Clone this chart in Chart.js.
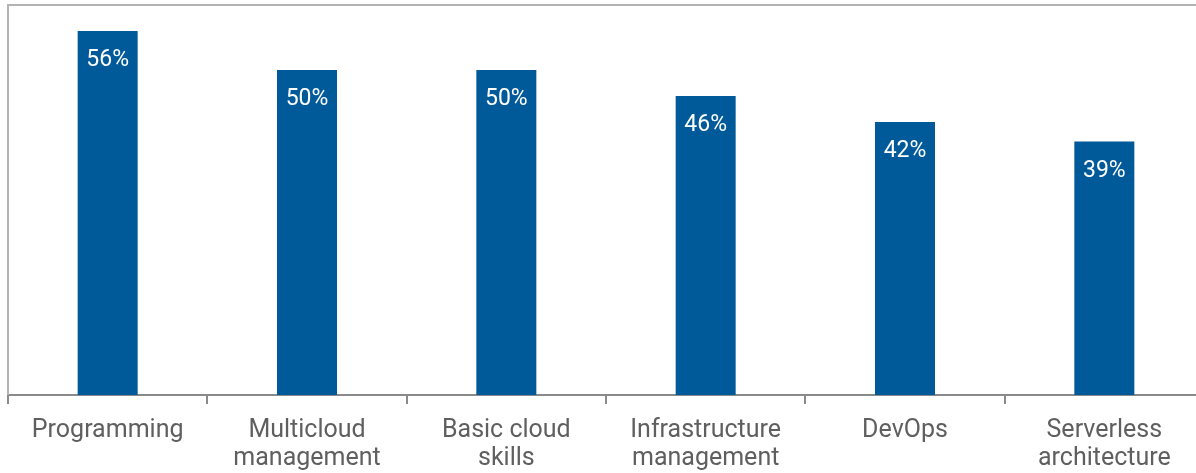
<!DOCTYPE html>
<html>
<head>
<meta charset="utf-8">
<script src="https://cdn.jsdelivr.net/npm/chart.js@4/dist/chart.umd.min.js"></script>
<style>
  html, body { margin: 0; padding: 0; background: #fff; }
  #frame { width: 1196px; height: 473px; overflow: hidden; position: relative; }
  #wrap { width: 1212px; height: 473px; position: absolute; left: 0; top: 0; }
</style>
</head>
<body>
<div id="frame"><div id="wrap"><canvas id="chart"></canvas></div></div>
<script>
// Skills categories and share of respondents (%)
const categories = [
  ["Programming"],
  ["Multicloud", "management"],
  ["Basic cloud", "skills"],
  ["Infrastructure", "management"],
  ["DevOps"],
  ["Serverless", "architecture"]
];
const shares = [56, 50, 50, 46, 42, 39];
const valueLabels = ["56%", "50%", "50%", "46%", "42%", "39%"];

const BAR_BLUE = "#005a9a";
const FRAME_GRAY = "#b4b4b4";
const AXIS_GRAY = "#8a8a8a";
const TEXT_GRAY = "#5f5f5f";

// Light frame on the top and left of the plot area
const framePlugin = {
  id: "frame",
  afterDraw(chart) {
    const { ctx, chartArea } = chart;
    ctx.save();
    ctx.strokeStyle = FRAME_GRAY;
    ctx.lineWidth = 2;
    ctx.beginPath();
    ctx.moveTo(chartArea.left, chartArea.bottom);
    ctx.lineTo(chartArea.left, chartArea.top);
    ctx.lineTo(chart.width, chartArea.top);
    ctx.stroke();
    ctx.restore();
  }
};

// White value labels just inside the top of each bar
const valueLabelPlugin = {
  id: "valueLabels",
  afterDatasetsDraw(chart) {
    const { ctx } = chart;
    const meta = chart.getDatasetMeta(0);
    ctx.save();
    ctx.fillStyle = "#ffffff";
    ctx.font = "23px Roboto";
    ctx.textAlign = "center";
    ctx.textBaseline = "alphabetic";
    meta.data.forEach((bar, i) => {
      ctx.fillText(valueLabels[i], bar.x, bar.y + 35);
    });
    ctx.restore();
  }
};

new Chart(document.getElementById("chart"), {
  type: "bar",
  data: {
    labels: categories,
    datasets: [{
      data: shares,
      backgroundColor: BAR_BLUE,
      borderWidth: 0,
      barPercentage: 0.301,
      categoryPercentage: 1.0
    }]
  },
  options: {
    responsive: true,
    maintainAspectRatio: false,
    animation: false,
    layout: { padding: { left: 8, top: 5, right: 8, bottom: 0 } },
    plugins: {
      legend: { display: false },
      tooltip: { enabled: false }
    },
    scales: {
      x: {
        grid: {
          display: true,
          offset: true,
          drawOnChartArea: false,
          drawTicks: true,
          tickLength: 9,
          color: AXIS_GRAY,
          lineWidth: 2
        },
        border: { display: true, color: AXIS_GRAY, width: 2 },
        ticks: {
          color: TEXT_GRAY,
          font: { family: "Roboto", size: 25, lineHeight: 1.14 },
          padding: 12,
          maxRotation: 0,
          autoSkip: false
        },
        afterFit(scale) { scale.height = 78; }
      },
      y: {
        display: false,
        min: 0,
        max: 60
      }
    }
  },
  plugins: [framePlugin, valueLabelPlugin]
});
</script>
</body>
</html>
